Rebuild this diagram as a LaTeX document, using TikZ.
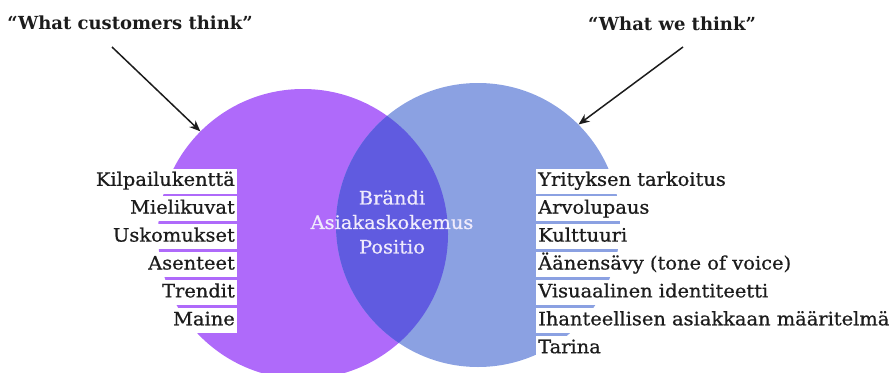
\documentclass[tikz,border=0pt]{standalone}
\usepackage{fontspec}
\setmainfont{DejaVu Serif}
\newfontfamily\lblfont[FakeStretch=1.05,FakeBold=0.7]{DejaVu Serif}
\usetikzlibrary{arrows.meta}
\definecolor{cpurple}{RGB}{175,106,250}
\definecolor{cblue}{RGB}{139,161,226}
\definecolor{clens}{RGB}{96,91,224}
\definecolor{ctext}{RGB}{28,28,28}
\definecolor{clight}{RGB}{240,235,252}
\begin{document}
\begin{tikzpicture}[x=1pt,y=-1pt,
  lbl/.style={fill=white, inner xsep=2pt, inner ysep=3.7pt, text height=13.6pt, text depth=4pt, font=\lblfont\fontsize{18.5}{20}\selectfont, text=ctext},
  ttl/.style={font=\bfseries\fontsize{18}{22}\selectfont, text=ctext},
  pointer/.style={-{Stealth[length=11pt,width=9pt]}, line width=1.5pt, draw=ctext},
  disc/.style={circle, inner sep=0pt}]
\useasboundingbox (0,0) rectangle (896,372);
% circles
\node[disc, fill=cpurple, minimum size=290pt] (lc) at (303,234) {};
\node[disc, fill=cblue, minimum size=284pt] (rc) at (478,225) {};
\begin{scope}
  \clip (303,234) circle[radius=145pt];
  \fill[clens] (478,225) circle[radius=142pt];
\end{scope}
% center text
\node[align=center, text=clight, font=\lblfont\fontsize{18.5}{24.5}\selectfont] (mid) at (392,222) {Brändi\\Asiakaskokemus\\Positio};
% left labels
\node[lbl, anchor=east] (l1) at (237,181) {Kilpailukenttä};
\node[lbl, anchor=east] (l2) at (237,208.9) {Mielikuvat};
\node[lbl, anchor=east] (l3) at (237,236.8) {Uskomukset};
\node[lbl, anchor=east] (l4) at (237,264.7) {Asenteet};
\node[lbl, anchor=east] (l5) at (237,292.6) {Trendit};
\node[lbl, anchor=east] (l6) at (237,320.5) {Maine};
% right labels
\node[lbl, anchor=west] (r1) at (536,181) {Yrityksen tarkoitus};
\node[lbl, anchor=west] (r2) at (536,208.9) {Arvolupaus};
\node[lbl, anchor=west] (r3) at (536,236.8) {Kulttuuri};
\node[lbl, anchor=west] (r4) at (536,264.7) {Äänensävy (tone of voice)};
\node[lbl, anchor=west] (r5) at (536,292.6) {Visuaalinen identiteetti};
\node[lbl, anchor=west] (r6) at (536,320.5) {Ihanteellisen asiakkaan määritelmä};
\node[lbl, anchor=west] (r7) at (536,348.4) {Tarina};
% titles and pointers
\node[ttl] (t1) at (130,23) {“What customers think”};
\node[ttl] (t2) at (672,24) {“What we think”};
\coordinate (a1) at (112,47);
\coordinate (a2) at (683,47);
\draw[pointer] (a1) -- (lc.135);
\draw[pointer] (a2) -- (rc.45);
\end{tikzpicture}
\end{document}
